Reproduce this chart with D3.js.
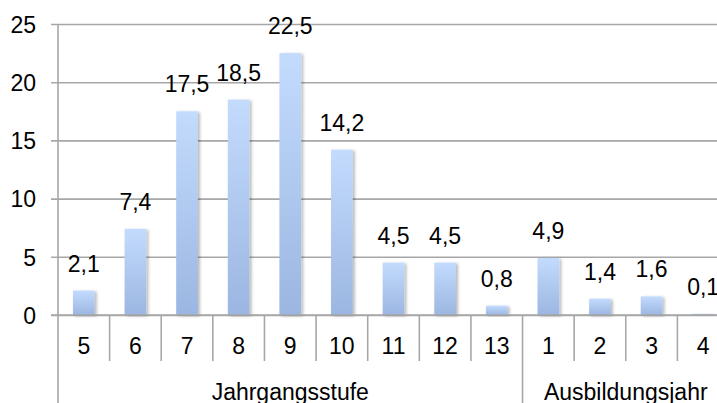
<!DOCTYPE html>
<html>
<head>
<meta charset="utf-8">
<script src="https://cdn.jsdelivr.net/npm/d3@7/dist/d3.min.js"></script>
<style>
  html, body { margin: 0; padding: 0; background: #fff; }
  svg { display: block; }
  text { font-family: "Liberation Sans", Arial, Helvetica, sans-serif; fill: #000; }
</style>
</head>
<body>
<svg id="chart" width="717" height="403"></svg>
<script>
// Share per grade / training year (percent)
const categories = ["5", "6", "7", "8", "9", "10", "11", "12", "13", "1", "2", "3", "4"];
const groupOf    = ["J", "J", "J", "J", "J", "J", "J", "J", "J", "A", "A", "A", "A"];
const values     = [2.1, 7.4, 17.5, 18.5, 22.5, 14.2, 4.5, 4.5, 0.8, 4.9, 1.4, 1.6, 0.1];
const groups     = [{ id: "J", name: "Jahrgangsstufe" }, { id: "A", name: "Ausbildungsjahr" }];
const yTicks     = [0, 5, 10, 15, 20, 25];

const svg = d3.select("#chart");
const fontSize = 23;
const plotLeft = 58, plotRight = 729, plotTop = 24, plotBase = 315;

const keys = categories.map((c, i) => groupOf[i] + c);
const x = d3.scaleBand().domain(keys).range([plotLeft, plotRight]).padding(0);
const y = d3.scaleLinear().domain([0, 25]).range([plotBase, plotTop]);
const fmt = v => String(v).replace(".", ",");

// Bar gradient and soft shadow
const defs = svg.append("defs");
const grad = defs.append("linearGradient")
  .attr("id", "barFill").attr("x1", 0).attr("y1", 0).attr("x2", 0).attr("y2", 1);
grad.append("stop").attr("offset", "0%").attr("stop-color", "#c3dbfd");
grad.append("stop").attr("offset", "100%").attr("stop-color", "#9bb6e1");
const shadow = defs.append("filter").attr("id", "barShadow")
  .attr("x", "-30%").attr("y", "-10%").attr("width", "170%").attr("height", "130%");
shadow.append("feDropShadow").attr("dx", 2).attr("dy", 1)
  .attr("stdDeviation", 1.6).attr("flood-color", "#000").attr("flood-opacity", 0.28);

// Horizontal gridlines with ticks reaching left of the axis
const yAxis = d3.axisLeft(y).tickValues(yTicks)
  .tickSize(-(717 - plotLeft + 10)).tickSizeOuter(0).tickPadding(0).tickFormat(d => d);
const gy = svg.append("g").attr("transform", `translate(${plotLeft},0)`).call(yAxis);
gy.select(".domain").remove();
gy.selectAll(".tick line")
  .attr("x1", -7).attr("stroke", "#a7a7a7").attr("stroke-width", 1.6);
gy.selectAll(".tick text")
  .attr("x", -22).attr("dy", "0.36em")
  .attr("text-anchor", "end")
  .style("font-size", fontSize + "px")
  .style("font-family", "'Liberation Sans', Arial, sans-serif")
  .attr("fill", "#000");

// Vertical axis line
svg.append("line")
  .attr("x1", plotLeft).attr("x2", plotLeft).attr("y1", y(25)).attr("y2", 403)
  .attr("stroke", "#a7a7a7").attr("stroke-width", 1.6);

// Bars
const barW = x.bandwidth() * 0.42;
svg.append("g").selectAll("rect").data(values).join("rect")
  .attr("x", (d, i) => x(keys[i]) + (x.bandwidth() - barW) / 2)
  .attr("y", d => y(d))
  .attr("width", barW)
  .attr("height", d => y(0) - y(d))
  .attr("fill", "url(#barFill)")
  .attr("filter", "url(#barShadow)");

// Value labels
svg.append("g").selectAll("text").data(values).join("text")
  .attr("x", (d, i) => x(keys[i]) + x.bandwidth() / 2)
  .attr("y", d => y(d) - 19)
  .attr("text-anchor", "middle")
  .style("font-size", fontSize + "px")
  .text(d => fmt(d));

// Baseline redrawn above bars
svg.append("line")
  .attr("x1", plotLeft - 7).attr("x2", 717).attr("y1", y(0)).attr("y2", y(0))
  .attr("stroke", "#a7a7a7").attr("stroke-width", 1.6);

// Category separators: short within a group, long between groups
keys.forEach((k, i) => {
  if (i === 0) return;
  const isGroupStart = groupOf[i] !== groupOf[i - 1];
  svg.append("line")
    .attr("x1", x(k)).attr("x2", x(k))
    .attr("y1", y(0)).attr("y2", isGroupStart ? 403 : 361)
    .attr("stroke", "#a7a7a7").attr("stroke-width", 1.6);
});

// Category labels
svg.append("g").selectAll("text").data(categories).join("text")
  .attr("x", (d, i) => x(keys[i]) + x.bandwidth() / 2)
  .attr("y", 354)
  .attr("text-anchor", "middle")
  .style("font-size", fontSize + "px")
  .text(d => d);

// Group labels
groups.forEach(g => {
  const members = keys.filter((k, i) => groupOf[i] === g.id);
  const x0 = x(members[0]);
  const x1 = x(members[members.length - 1]) + x.bandwidth();
  svg.append("text")
    .attr("x", (x0 + x1) / 2)
    .attr("y", 400)
    .attr("text-anchor", "middle")
    .style("font-size", fontSize + "px")
    .text(g.name);
});
</script>
</body>
</html>
